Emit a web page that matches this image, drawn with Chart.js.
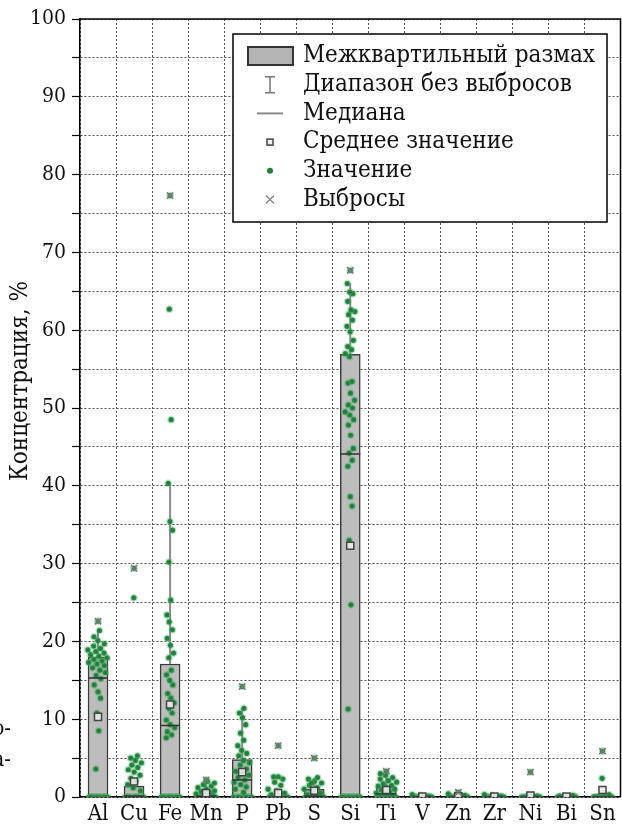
<!DOCTYPE html>
<html>
<head>
<meta charset="utf-8">
<script src="https://cdn.jsdelivr.net/npm/chart.js@4.4.0/dist/chart.umd.min.js"></script>
<style>
html, body { margin: 0; padding: 0; background: #fff; overflow: hidden; }
#wrap { width: 632px; height: 827px; }
</style>
</head>
<body>
<div id="wrap"><canvas id="canvas" width="632" height="827"></canvas></div>
<script>
var FONT = '"DejaVu Serif Condensed", "DejaVu Serif", serif';

var elements = ['Al', 'Cu', 'Fe', 'Mn', 'P', 'Pb', 'S', 'Si', 'Ti', 'V', 'Zn', 'Zr', 'Ni', 'Bi', 'Sn'];
var yTicks = [0, 10, 20, 30, 40, 50, 60, 70, 80, 90, 100];

// box statistics, %
var q1 = [0, 0, 0, 0, 0, 0, 0, 0, 0, 0, 0, 0, 0, 0, 0];
var q3 = [18.0, 1.4, 17.1, 0.3, 4.8, 0.1, 1.0, 56.9, 1.3, 0.1, 0.1, 0.1, 0.1, 0.05, 0.3];
var medians = [15.3, 0.1, 9.2, 0.1, 2.2, 0, 0.1, 44.1, 0.4, 0, 0, 0, 0, 0, 0];
var means = [10.3, 2.0, 11.9, 0.5, 3.2, 0.5, 0.8, 32.3, 0.9, 0.05, 0.1, 0.05, 0.2, 0.05, 0.9];
var whiskerHigh = [21.5, 2.1, 40.3, 1.6, 11.4, 0.3, 2.5, 66.0, 2.6, 0.3, 0.3, 0.3, 0.3, 0.2, 0.8];
var outliers = [[22.6], [29.4], [77.3], [2.2], [14.2], [6.6], [5.0], [67.7], [3.3], [], [0.6], [], [3.2], [], [5.9]];

// individual measurements (outliers listed above), %
var valuesAl = [0, 0, 0, 0, 0, 0, 0, 0, 0, 0, 0, 0, 3.6, 8.5, 10.8, 12.7, 13.5, 14.4, 15.2, 15.6, 16.0, 16.3, 16.6,
	16.9, 17.1, 17.3, 17.5, 17.7, 17.9, 18.1, 18.3, 18.5, 18.7, 18.9, 19.1, 19.4, 19.7, 20.1, 20.6, 21.4];
var valuesCu = [0, 0, 0, 0, 0, 0, 0, 0, 0, 0, 0.8, 1.2, 1.6, 2.0, 2.4, 2.8, 3.2, 3.5, 3.8, 4.1, 4.4, 4.7, 5.0, 5.3, 25.6];
var valuesFe = [0, 0, 0, 0, 0, 0, 0, 0, 0, 0, 0, 0, 7.6, 8.0, 8.4, 8.9, 9.3, 9.9, 10.8, 11.4, 12.1, 12.7, 13.3, 14.4, 15.0,
	15.7, 16.3, 17.9, 18.5, 19.5, 20.4, 21.5, 22.5, 23.4, 25.3, 30.2, 34.3, 35.4, 40.3, 48.5, 62.7];
var valuesMn = [0, 0, 0, 0, 0, 0, 0, 0, 0, 0, 0.2, 0.3, 0.4, 0.6, 0.7, 0.8, 1.0, 1.2, 1.4, 1.6, 1.8, 2.0];
var valuesP = [0, 0, 0, 0, 0, 0, 0, 0, 0.6, 1.0, 1.3, 1.6, 1.9, 2.2, 2.5, 2.8, 3.0, 3.3, 3.6, 4.1, 4.4, 4.7, 5.3, 5.6,
	6.0, 6.6, 7.3, 8.2, 9.3, 10.2, 10.8, 11.4];
var valuesPb = [0, 0, 0, 0, 0, 0, 0, 0, 0, 0.3, 0.5, 0.8, 1.0, 1.5, 1.9, 2.3, 2.6, 2.6];
var valuesS = [0, 0, 0, 0, 0, 0, 0, 0, 0, 0.3, 0.5, 0.8, 1.0, 1.2, 1.5, 1.8, 2.0, 2.3, 2.5, 1.8];
var valuesSi = [0, 0, 0, 0, 0, 0, 0, 0, 0, 0, 0, 0, 11.3, 24.7, 33.0, 37.4, 38.6, 42.5, 43.3, 44.2, 44.8, 46.5, 47.8,
	48.5, 49.1, 49.5, 50.0, 50.4, 51.0, 51.9, 53.2, 53.4, 56.6, 57.0, 57.5, 57.9, 58.7, 59.8, 60.5, 61.3, 62.0,
	62.4, 62.6, 63.7, 64.7, 64.9, 66.0];
var valuesTi = [0, 0, 0, 0, 0, 0, 0, 0, 0, 0, 0.2, 0.4, 0.5, 0.7, 0.9, 1.0, 1.2, 1.4, 1.5, 1.7, 1.9, 2.1, 2.3, 2.5, 2.8, 3.0];
var valuesV = [0, 0, 0, 0, 0, 0, 0, 0, 0, 0, 0.1, 0.2, 0.3];
var valuesZn = [0, 0, 0, 0, 0, 0, 0, 0, 0, 0, 0.2, 0.3, 0.4];
var valuesZr = [0, 0, 0, 0, 0, 0, 0, 0, 0, 0, 0.1, 0.2, 0.3];
var valuesNi = [0, 0, 0, 0, 0, 0, 0, 0, 0, 0, 0.1, 0.2];
var valuesBi = [0, 0, 0, 0, 0, 0, 0, 0, 0, 0.1, 0.2];
var valuesSn = [0, 0, 0, 0, 0, 0, 0, 0, 0, 0, 0.3, 2.4];
var allValues = [valuesAl, valuesCu, valuesFe, valuesMn, valuesP, valuesPb, valuesS, valuesSi, valuesTi,
	valuesV, valuesZn, valuesZr, valuesNi, valuesBi, valuesSn];

var legendItems = ['Межквартильный размах', 'Диапазон без выбросов', 'Медиана', 'Среднее значение', 'Значение', 'Выбросы'];

// deterministic horizontal spread for the dots, wider where the values crowd together
function jitter(list, k) {
	var v = list[k], n = 0;
	list.forEach(function (w) { if (Math.abs(w - v) < 1.2) n++; });
	var spread = Math.min(0.3, 0.04 + 0.025 * n);
	return (((k + 1) * 0.6180339887) % 1 - 0.5) * 2 * spread;
}

var boxData = [], whiskerData = [], medianData = [], meanData = [], pointData = [], outlierData = [];
elements.forEach(function (el, i) {
	boxData.push({x: i, y: [q1[i], q3[i]]});
	whiskerData.push({x: i, y: q3[i]}, {x: i, y: whiskerHigh[i]}, {x: i, y: null});
	medianData.push({x: i, y: medians[i]});
	meanData.push({x: i, y: means[i]});
	allValues[i].forEach(function (v, k) {
		pointData.push({x: i + jitter(allValues[i], k), y: v});
	});
	outliers[i].forEach(function (v) {
		pointData.push({x: i, y: v});
		outlierData.push({x: i, y: v});
	});
});

var framePlugin = {
	id: 'frame',
	afterDatasetsDraw: function (chart) {
		var ctx = chart.ctx, a = chart.chartArea;
		ctx.save();
		ctx.strokeStyle = '#000';
		ctx.lineWidth = 1.5;
		ctx.beginPath();
		ctx.moveTo(a.left, a.top);
		ctx.lineTo(a.right, a.top);
		ctx.lineTo(a.right, a.bottom);
		ctx.stroke();
		ctx.restore();
	}
};

var legendPlugin = {
	id: 'boxLegend',
	afterDraw: function (chart) {
		var ctx = chart.ctx;
		var bx = 233, by = 34, bw = 374, bh = 188;
		ctx.save();
		ctx.fillStyle = '#fff';
		ctx.fillRect(bx, by, bw, bh);
		ctx.strokeStyle = '#000';
		ctx.lineWidth = 1.5;
		ctx.strokeRect(bx, by, bw, bh);
		var ix = 270, tx = 303, y0 = 56, dy = 28.7;
		ctx.font = '24px ' + FONT;
		ctx.fillStyle = '#111';
		ctx.textBaseline = 'middle';
		legendItems.forEach(function (t, k) {
			ctx.fillText(t, tx, y0 + dy * k);
		});
		// box
		ctx.fillStyle = '#b4b4b4';
		ctx.fillRect(248, 47, 45, 18);
		ctx.strokeStyle = '#333';
		ctx.lineWidth = 2;
		ctx.strokeRect(248, 47, 45, 18);
		// whisker
		var wy = y0 + dy;
		ctx.strokeStyle = '#777';
		ctx.lineWidth = 1.5;
		ctx.beginPath();
		ctx.moveTo(ix, wy - 8); ctx.lineTo(ix, wy + 8);
		ctx.moveTo(ix - 5, wy - 8); ctx.lineTo(ix + 5, wy - 8);
		ctx.moveTo(ix - 5, wy + 8); ctx.lineTo(ix + 5, wy + 8);
		ctx.stroke();
		// median
		var my = y0 + dy * 2;
		ctx.strokeStyle = '#8a8a8a';
		ctx.lineWidth = 2;
		ctx.beginPath();
		ctx.moveTo(257, my); ctx.lineTo(283, my);
		ctx.stroke();
		// mean
		var sy = y0 + dy * 3;
		ctx.strokeStyle = '#444';
		ctx.lineWidth = 1.5;
		ctx.fillStyle = '#eee';
		ctx.fillRect(ix - 3, sy - 3, 6, 6);
		ctx.strokeRect(ix - 3, sy - 3, 6, 6);
		// value
		var vy = y0 + dy * 4;
		ctx.fillStyle = '#1f7f3b';
		ctx.beginPath();
		ctx.arc(ix, vy, 3, 0, Math.PI * 2);
		ctx.fill();
		// outlier
		var oy = y0 + dy * 5;
		ctx.strokeStyle = '#8a8a8a';
		ctx.lineWidth = 1.5;
		ctx.beginPath();
		ctx.moveTo(ix - 4, oy - 4); ctx.lineTo(ix + 4, oy + 4);
		ctx.moveTo(ix + 4, oy - 4); ctx.lineTo(ix - 4, oy + 4);
		ctx.stroke();
		ctx.restore();
	}
};

var textPlugin = {
	id: 'sideText',
	afterDraw: function (chart) {
		var ctx = chart.ctx;
		ctx.save();
		ctx.fillStyle = '#111';
		ctx.font = '24px ' + FONT;
		ctx.textBaseline = 'middle';
		ctx.textAlign = 'center';
		ctx.translate(21, 381);
		ctx.rotate(-Math.PI / 2);
		ctx.fillText('Концентрация, %', 0, 0);
		ctx.restore();
		ctx.save();
		ctx.fillStyle = '#111';
		ctx.font = '22px ' + FONT;
		ctx.textBaseline = 'middle';
		ctx.textAlign = 'right';
		ctx.fillText('о-', 11, 729);
		ctx.fillText('а-', 11, 760);
		ctx.restore();
	}
};

var config = {
	type: 'bar',
	data: {
		datasets: [{
			type: 'scatter',
			label: 'Выбросы',
			data: outlierData,
			pointStyle: 'crossRot',
			radius: 4.5,
			borderColor: '#7a7a7a',
			borderWidth: 1.5,
			order: 1
		}, {
			type: 'scatter',
			label: 'Среднее значение',
			data: meanData,
			pointStyle: 'rect',
			radius: 5,
			backgroundColor: 'rgba(235,235,235,0.9)',
			borderColor: '#444',
			borderWidth: 1.5,
			order: 2
		}, {
			type: 'scatter',
			label: 'Медиана',
			data: medianData,
			pointStyle: 'line',
			radius: 10,
			borderColor: '#333',
			borderWidth: 1.5,
			order: 3
		}, {
			type: 'scatter',
			label: 'Значение',
			data: pointData,
			pointStyle: 'circle',
			radius: 2.6,
			backgroundColor: '#1d7c39',
			borderColor: 'rgba(70,170,95,0.35)',
			borderWidth: 2.5,
			order: 4
		}, {
			type: 'line',
			label: 'Диапазон без выбросов',
			data: whiskerData,
			borderColor: '#8c8c8c',
			borderWidth: 2,
			pointRadius: 0,
			spanGaps: false,
			order: 5
		}, {
			label: 'Межквартильный размах',
			data: boxData,
			backgroundColor: '#bdbdbd',
			borderColor: '#3a3a3a',
			borderWidth: 1.5,
			borderSkipped: false,
			barThickness: 20,
			order: 6
		}]
	},
	options: {
		responsive: false,
		animation: false,
		layout: { padding: { top: 19, right: 7, left: 0, bottom: 0 } },
		plugins: {
			legend: { display: false },
			tooltip: { enabled: false }
		},
		scales: {
			x: {
				type: 'linear',
				offset: false,
				min: -0.5,
				max: elements.length - 0.5,
				afterBuildTicks: function (scale) {
					scale.ticks = elements.map(function (e, i) { return {value: i}; });
				},
				afterFit: function (scale) { scale.height = 30; },
				ticks: {
					autoSkip: false,
					maxRotation: 0,
					padding: 4,
					color: '#111',
					font: { family: FONT, size: 22 },
					callback: function (v) { return elements[v]; }
				},
				grid: {
					offset: true,
					drawTicks: false,
					color: '#555',
					lineWidth: 1
				},
				border: { display: true, color: '#000', width: 1.5, dash: [2, 2] }
			},
			y: {
				min: 0,
				max: 100,
				afterBuildTicks: function (scale) {
					var t = [];
					for (var k = 0; k < yTicks.length; k++) {
						t.push({value: yTicks[k]});
						if (k < yTicks.length - 1) t.push({value: yTicks[k] + 5});
					}
					scale.ticks = t;
				},
				afterFit: function (scale) { scale.width = 80; },
				ticks: {
					padding: 6,
					color: '#111',
					font: { family: FONT, size: 21 },
					callback: function (v) { return v % 10 === 0 ? String(v) : ''; }
				},
				grid: {
					color: '#555',
					lineWidth: 1,
					tickLength: 8,
					tickColor: '#000',
					tickWidth: 1.2
				},
				border: { display: true, color: '#000', width: 1.5, dash: [2, 2] }
			}
		}
	},
	plugins: [framePlugin, legendPlugin, textPlugin]
};

window.onload = function () {
	window.myChart = new Chart(document.getElementById('canvas'), config);
};
</script>
</body>
</html>
